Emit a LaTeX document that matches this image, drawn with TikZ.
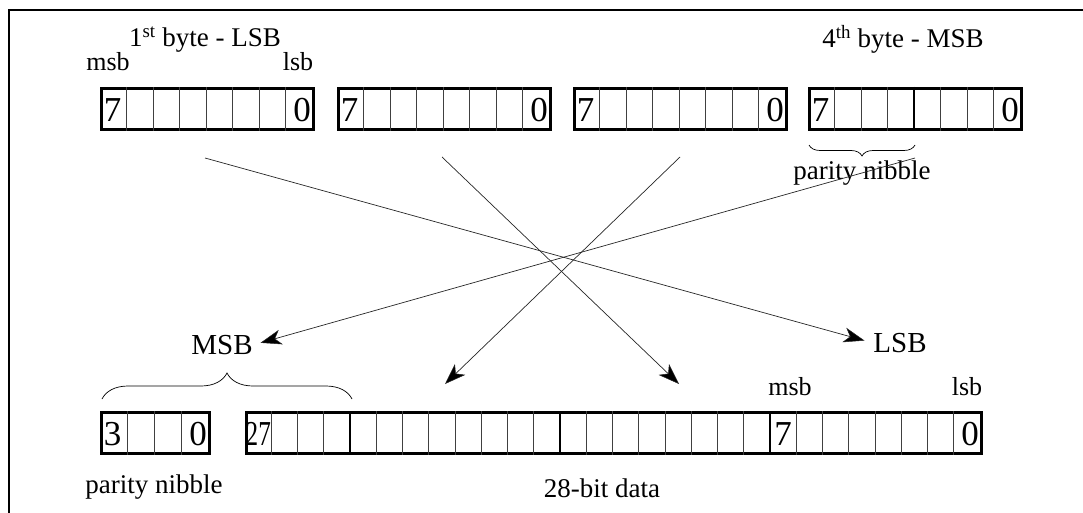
\documentclass[tikz,border=0pt]{standalone}
\usepackage{fontspec}
\setmainfont{Liberation Serif}
\usetikzlibrary{arrows.meta,decorations.pathreplacing,calc}
\begin{document}
\begin{tikzpicture}[x=1pt,y=-1pt,
  framel/.style={line width=2pt},
  regbox/.style={draw, line width=3pt, minimum height=41pt, inner sep=0pt, anchor=north west},
  cellline/.style={line width=0.7pt, draw=black!75},
  bytesep/.style={line width=2.2pt},
  digit/.style={font=\fontsize{35}{35}\selectfont, inner sep=0pt},
  lbl/.style={font=\fontsize{27}{30}\selectfont, inner sep=0pt},
  big/.style={font=\fontsize{29}{32}\selectfont, inner sep=0pt},
  small/.style={font=\fontsize{26}{28}\selectfont, inner sep=0pt},
  conn/.style={line width=0.7pt, draw=black!85, -{Stealth[length=21pt,width=15pt,inset=6pt,fill=black,line width=0.5pt]}},
  brc/.style={decorate, line width=0.7pt, decoration={brace, amplitude=#1}}]
\useasboundingbox (0,0) rectangle (1083,513);
% frame
\coordinate (fr0) at (9,513);
\coordinate (fr1) at (9,10);
\coordinate (fr2) at (1083,10);
\draw[framel] (fr0) -- (fr1) -- (fr2);

% top bytes
\foreach \n/\x in {b1/100, b2/337, b3/573, b4/808} {
  \node[regbox, minimum width=212pt] (\n) at (\x,87) {};
  \foreach \i in {1,...,7}
    \draw[cellline] ($(\n.north west)+(\i*26.5,0)$) -- ($(\n.south west)+(\i*26.5,0)$);
  \node[digit] (\n-7) at ($(\n.west)+(12.5,1)$) {7};
  \node[digit] (\n-0) at ($(\n.east)+(-13,1)$) {0};
}
\draw[bytesep] ($(b4.north west)+(106,0)$) -- ($(b4.south west)+(106,0)$);

% top labels
\node[lbl] (t1) at (205,40) {1\textsuperscript{st} byte - LSB};
\node[small] (msb1) at (108,62) {msb};
\node[small] (lsb1) at (298,62) {lsb};
\node[lbl] (t4) at (903,39) {4\textsuperscript{th} byte - MSB};
\coordinate (pb0) at (809,145);
\coordinate (pb1) at (915,145);
\draw[brc=11pt, decoration={mirror}] (pb0) -- (pb1);
\node[lbl] (pn1) at (862,173) {parity nibble};

% bottom registers
\node[regbox, minimum width=108pt] (pn) at (100,411) {};
\foreach \i in {1,...,3}
  \draw[cellline] ($(pn.north west)+(\i*27,0)$) -- ($(pn.south west)+(\i*27,0)$);
\node[digit] (pn-3) at ($(pn.west)+(12.5,1)$) {3};
\node[digit] (pn-0) at ($(pn.east)+(-13,1)$) {0};

\node[regbox, minimum width=735pt] (db) at (245,411) {};
\foreach \i in {1,...,27}
  \draw[cellline] ($(db.north west)+(\i*26.25,0)$) -- ($(db.south west)+(\i*26.25,0)$);
\foreach \i in {4,12,20}
  \draw[bytesep] ($(db.north west)+(\i*26.25,0)$) -- ($(db.south west)+(\i*26.25,0)$);
\node[digit, anchor=west] (db-27) at ($(db.west)+(0.5,1)$) {\scalebox{0.72}[1]{27}};
\node[digit] (db-7) at ($(db.west)+(20.5*26.25,1)$) {7};
\node[digit] (db-0) at ($(db.east)+(-13,1)$) {0};

% bottom labels
\node[big] (msbL) at (222,345) {MSB};
\node[big] (lsbL) at (900,343) {LSB};
\coordinate (bb0) at (102,399);
\coordinate (bb1) at (352,399);
\draw[brc=26pt] (bb0) -- (bb1);
\node[small] (msb2) at (790,387) {msb};
\node[small] (lsb2) at (967,387) {lsb};
\node[lbl] (pn2) at (154,487) {parity nibble};
\node[lbl] (dat) at (602,488) {28-bit data};

% connectors
\coordinate (s1) at (205,158);
\coordinate (s2) at (442,157);
\coordinate (s3) at (680,157);
\coordinate (s4) at (915,158);
\coordinate (e2) at (679,384);
\coordinate (e3) at (445,384);
\draw[conn, shorten >=9pt] (s1) -- (lsbL.west);
\draw[conn] (s2) -- (e2);
\draw[conn] (s3) -- (e3);
\draw[conn, shorten >=8pt] (s4) -- (msbL.east);
\end{tikzpicture}
\end{document}
